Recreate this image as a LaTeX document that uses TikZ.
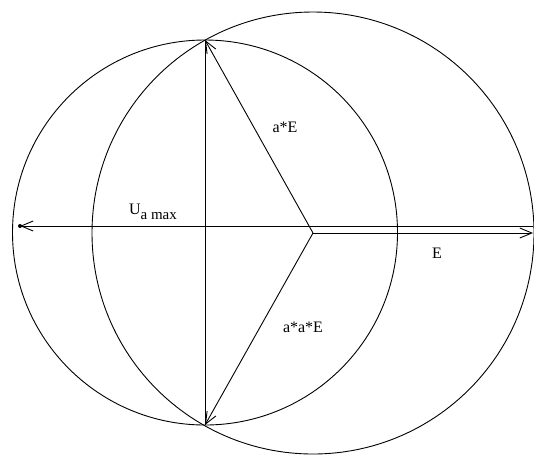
\documentclass[tikz,border=0pt]{standalone}
\usepackage{fontspec}
\setmainfont{Liberation Serif}
\usetikzlibrary{arrows.meta}

\begin{document}
\begin{tikzpicture}[x=1pt,y=-1pt,>={Straight Barb[length=12pt,width=10pt]}, line width=0.9pt, every node/.style={font=\fontsize{16}{18}\selectfont}]
        \useasboundingbox (0,0) rectangle (534,456);
        \coordinate (o) at (313,233);
        \coordinate (ptop) at (205,40);
        \coordinate (pbot) at (205,425);
        \coordinate (pleft) at (20,226);
        \coordinate (pright) at (533,226);
        \coordinate (etip) at (533,233);
        \draw (205,232.5) circle[radius=192.5];
        \draw (o) circle[radius=221];
        \draw (ptop) -- (pbot);
        \draw[->] (o) -- (ptop);
        \draw[->] (o) -- (pbot);
        \draw[->] (pright) -- (pleft);
        \draw[->] (o) -- (etip);
        \fill (pleft) circle[radius=2];
        \node (ae) at (285,127) {a*E};
        \node (aae) at (303,327) {a*a*E};
        \node (umax) at (153,212) {U\raisebox{-0.35em}{\fontsize{15}{16}\selectfont a max}};
        \node (elab) at (437,253) {E};
      \end{tikzpicture}
\end{document}
